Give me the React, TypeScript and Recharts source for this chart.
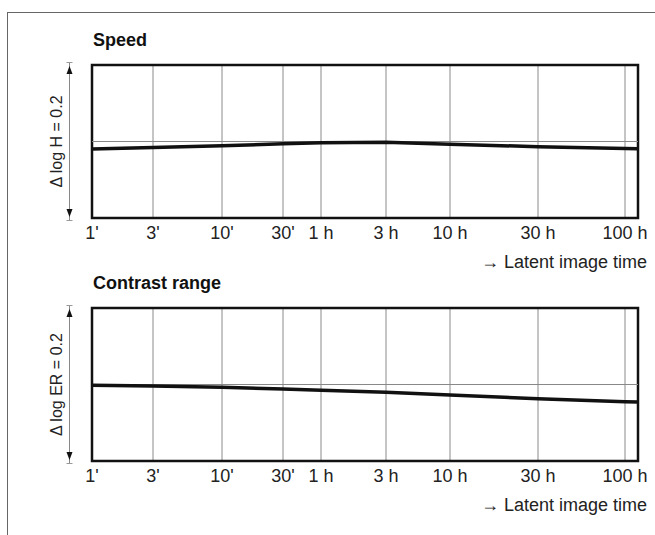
import React from 'react';
import {
  LineChart,
  Line,
  XAxis,
  YAxis,
  CartesianGrid,
  ReferenceLine,
  ReferenceArea,
  Label,
} from 'recharts';

// ---- data (latent image time in minutes) ----
const latentTimes = [1, 3, 10, 30, 60, 180, 600, 1800, 6000, 7200];
const speedDelta = [-0.0098, -0.008, -0.0055, -0.003, -0.0015, -0.001, -0.0035, -0.0068, -0.009, -0.0095];
const contrastDelta = [-0.001, -0.002, -0.0037, -0.006, -0.0076, -0.01, -0.0137, -0.0186, -0.0225, -0.023];
const tickTimes = [1, 3, 10, 30, 60, 180, 600, 1800, 6000];
const tickLabels = ["1'", "3'", "10'", "30'", '1 h', '3 h', '10 h', '30 h', '100 h'];

const speedData = latentTimes.map((t, i) => ({ t, v: speedDelta[i] }));
const contrastData = latentTimes.map((t, i) => ({ t, v: contrastDelta[i] }));

const FONT = '"Liberation Sans", Arial, Helvetica, sans-serif';

// ---- non-uniform time axis: piecewise log scale between the printed stops ----
const STOP_TIMES = [1, 3, 10, 30, 60, 180, 600, 1800, 6000, 7200];
const STOP_FRACTIONS = [0, 61, 130, 191, 229, 294, 358, 446, 533, 546].map((v) => v / 546);

function makeTimeScale(): any {
  let dom: number[] = [1, 7200];
  let rng: number[] = [0, 1];
  const frac = (v: number) => {
    const lv = Math.log10(Math.max(v, 1e-9));
    const n = STOP_TIMES.length;
    for (let i = 0; i < n - 1; i++) {
      const a = Math.log10(STOP_TIMES[i]);
      const b = Math.log10(STOP_TIMES[i + 1]);
      if (lv <= b || i === n - 2) {
        return STOP_FRACTIONS[i] + ((lv - a) / (b - a)) * (STOP_FRACTIONS[i + 1] - STOP_FRACTIONS[i]);
      }
    }
    return 0;
  };
  const s: any = (v: number) => rng[0] + frac(v) * (rng[1] - rng[0]);
  s.domain = (d?: any) => {
    if (d === undefined) return dom.slice();
    dom = Array.from(d);
    return s;
  };
  s.range = (r?: any) => {
    if (r === undefined) return rng.slice();
    rng = Array.from(r);
    return s;
  };
  s.copy = () => makeTimeScale().domain(dom).range(rng);
  s.ticks = () => tickTimes.slice();
  s.tickFormat = () => (v: any) => String(v);
  return s;
}

const timeScale = makeTimeScale();

const renderXLabel = (props: any) => {
  const vb = props && props.viewBox ? props.viewBox : { x: 92, y: 218, width: 546, height: 60 };
  return (
    <text
      x={vb.x + vb.width + 9}
      y={vb.y + 50}
      textAnchor="end"
      fontSize={18}
      fill="#222"
      fontFamily={FONT}
    >
      → Latent image time
    </text>
  );
};

const makeYLabel = (title: string, yLabel: string) => (props: any) => {
  const vb = props && props.viewBox ? props.viewBox : { x: 0, y: 65, width: 92, height: 153 };
  const top = vb.y;
  const bottom = vb.y + vb.height;
  const ax = 69.5;
  const cy = top + vb.height / 2;
  return (
    <g>
      <text x={93} y={top - 19} fontSize={18} fontWeight="bold" fill="#111" fontFamily={FONT}>
        {title}
      </text>
      <line x1={ax} x2={ax} y1={top - 2} y2={bottom + 2} stroke="#888" strokeWidth={1} />
      <line x1={ax - 3} x2={ax + 3} y1={top - 2.5} y2={top - 2.5} stroke="#999" strokeWidth={1} />
      <line x1={ax - 3} x2={ax + 3} y1={bottom + 2.5} y2={bottom + 2.5} stroke="#999" strokeWidth={1} />
      <path d={`M ${ax} ${top + 1} L ${ax - 3} ${top + 9} L ${ax + 3} ${top + 9} Z`} fill="#111" />
      <path d={`M ${ax} ${bottom - 1} L ${ax - 3} ${bottom - 9} L ${ax + 3} ${bottom - 9} Z`} fill="#111" />
      <text
        x={56}
        y={cy}
        transform={`rotate(-90 56 ${cy})`}
        textAnchor="middle"
        dominantBaseline="central"
        fontSize={16}
        fill="#222"
        fontFamily={FONT}
      >
        {yLabel}
      </text>
    </g>
  );
};

function Panel({ title, yLabel, data, top }: { title: string; yLabel: string; data: any[]; top: number }) {
  return (
    <div style={{ position: 'absolute', left: 0, top, width: 655, height: 280 }}>
      <LineChart width={655} height={280} data={data} margin={{ top: 65, right: 17, bottom: 0, left: 0 }}>
        <CartesianGrid horizontal={false} stroke="#8a8a8a" strokeWidth={1} />
        <XAxis
          dataKey="t"
          type="number"
          scale={timeScale}
          domain={[1, 7200]}
          ticks={tickTimes}
          interval={0}
          allowDataOverflow
          tickFormatter={(v: any) => {
            const i = tickTimes.indexOf(Number(v));
            return i >= 0 ? tickLabels[i] : '';
          }}
          tick={{ fontSize: 18, fill: '#222', fontFamily: FONT }}
          axisLine={false}
          tickLine={false}
          height={62}
          label={<Label content={renderXLabel} />}
        />
        <YAxis
          type="number"
          domain={[-0.1, 0.1]}
          allowDataOverflow
          width={92}
          tick={false}
          axisLine={false}
          tickLine={false}
          label={<Label content={makeYLabel(title, yLabel)} />}
        />
        <ReferenceLine y={0} stroke="#888" strokeWidth={1} />
        <Line
          type="linear"
          dataKey="v"
          stroke="#111"
          strokeWidth={3.5}
          dot={false}
          activeDot={false}
          isAnimationActive={false}
        />
        <ReferenceArea
          x1={1}
          x2={7200}
          y1={-0.1}
          y2={0.1}
          fill="none"
          fillOpacity={0}
          stroke="#111"
          strokeWidth={2.5}
          ifOverflow="visible"
        />
      </LineChart>
    </div>
  );
}

export default function App() {
  return (
    <div
      style={{
        position: 'absolute',
        left: 0,
        top: 0,
        width: 655,
        height: 535,
        background: '#fff',
        overflow: 'hidden',
        fontFamily: FONT,
      }}
    >
      <div
        style={{
          position: 'absolute',
          left: 7,
          top: 12,
          right: -2,
          bottom: -2,
          borderTop: '1.5px solid #666',
          borderLeft: '1.5px solid #666',
        }}
      />
      <Panel title="Speed" yLabel="Δ log H = 0.2" data={speedData} top={0} />
      <Panel title="Contrast range" yLabel="Δ log ER = 0.2" data={contrastData} top={243} />
    </div>
  );
}
